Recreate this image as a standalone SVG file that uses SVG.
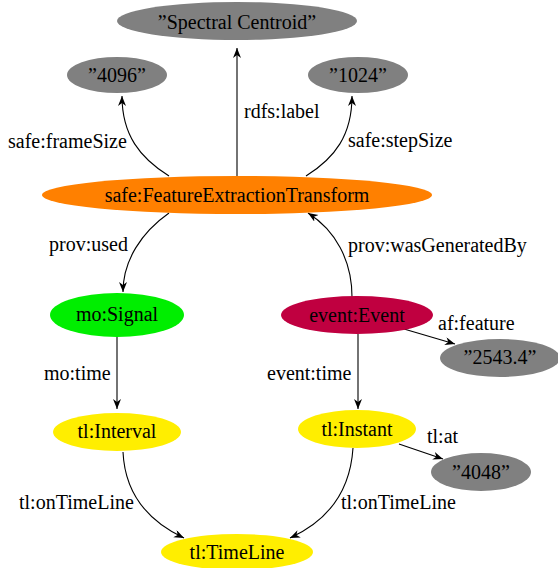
<svg xmlns="http://www.w3.org/2000/svg" width="558" height="568" viewBox="0 0 558 568">
<style>
text{font-family:"Liberation Serif","Times New Roman",serif;font-size:20px;fill:#000}
.n text{text-anchor:middle}
.gray{fill:#808080}
.edge{fill:none;stroke:#000;stroke-width:1.1}
</style>
<defs>
<marker id="ah" markerUnits="userSpaceOnUse" markerWidth="11" markerHeight="9" refX="10" refY="4" orient="auto">
<path d="M0,0 L10,4 L0,8 L3,4 z" fill="#000"/>
</marker>
</defs>
<rect width="558" height="568" fill="#fff"/>
<g id="connectors">
<path class="edge" d="M237,176 L237,48" marker-end="url(#ah)"/>
<path class="edge" d="M169,176 C140,158 122,135 122,96" marker-end="url(#ah)"/>
<path class="edge" d="M306,176 C335,158 352,135 352,96" marker-end="url(#ah)"/>
<path class="edge" d="M169,213 C142,232 123,260 123,292" marker-end="url(#ah)"/>
<path class="edge" d="M352,297 C352,260 335,230 308,213" marker-end="url(#ah)"/>
<path class="edge" d="M117,337 L117,409" marker-end="url(#ah)"/>
<path class="edge" d="M358,334 L358,409" marker-end="url(#ah)"/>
<path class="edge" d="M404,329 L455,344" marker-end="url(#ah)"/>
<path class="edge" d="M399,444 L443,459" marker-end="url(#ah)"/>
<path class="edge" d="M123,452 C125,495 150,522 184,538" marker-end="url(#ah)"/>
<path class="edge" d="M353,448 C350,495 325,522 290,538" marker-end="url(#ah)"/>
<text x="244" y="118">rdfs:label</text>
<text x="8" y="148">safe:frameSize</text>
<text x="348" y="147">safe:stepSize</text>
<text x="49" y="251">prov:used</text>
<text x="348" y="252">prov:wasGeneratedBy</text>
<text x="44" y="380">mo:time</text>
<text x="267" y="380">event:time</text>
<text x="438" y="330">af:feature</text>
<text x="427" y="443">tl:at</text>
<text x="19" y="509">tl:onTimeLine</text>
<text x="341" y="509">tl:onTimeLine</text>
</g>
<g id="spectralCentroid" class="n"><ellipse class="gray" cx="237" cy="21" rx="120" ry="19"/><text x="237" y="29">”Spectral Centroid”</text></g>
<g id="frameSize" class="n"><ellipse class="gray" cx="117" cy="75" rx="50" ry="18"/><text x="117" y="82">”4096”</text></g>
<g id="stepSize" class="n"><ellipse class="gray" cx="358" cy="75" rx="50" ry="18"/><text x="358" y="82">”1024”</text></g>
<g id="transform" class="n"><ellipse fill="#ff8000" cx="237" cy="195" rx="195" ry="19"/><text x="237" y="202">safe:FeatureExtractionTransform</text></g>
<g id="signal" class="n"><ellipse fill="#00ee00" cx="117" cy="315" rx="67" ry="22"/><text x="117" y="321">mo:Signal</text></g>
<g id="event" class="n"><ellipse fill="#c00040" cx="357" cy="315" rx="76" ry="19"/><text x="357" y="322">event:Event</text></g>
<g id="feature" class="n"><ellipse class="gray" cx="500" cy="358" rx="60" ry="19"/><text x="500" y="364">”2543.4”</text></g>
<g id="interval" class="n"><ellipse fill="#ffee00" cx="117" cy="432" rx="64" ry="19"/><text x="117" y="438">tl:Interval</text></g>
<g id="instant" class="n"><ellipse fill="#ffee00" cx="357" cy="429" rx="59" ry="19"/><text x="357" y="436">tl:Instant</text></g>
<g id="at" class="n"><ellipse class="gray" cx="481" cy="472" rx="50" ry="19"/><text x="481" y="479">”4048”</text></g>
<g id="timeline" class="n"><ellipse fill="#ffee00" cx="237" cy="552" rx="76" ry="18"/><text x="237" y="559">tl:TimeLine</text></g>
</svg>
